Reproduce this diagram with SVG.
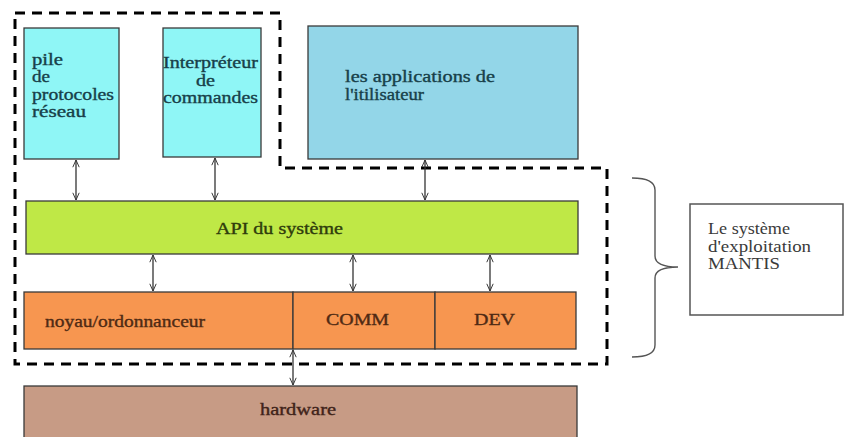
<svg xmlns="http://www.w3.org/2000/svg" width="845" height="437" viewBox="0 0 845 437">
  <style>
    .box { stroke: #3a3a3a; stroke-width: 1.3; }
    .cyan { fill: #8ff6f6; }
    .blue { fill: #93d6e8; }
    .green { fill: #bfe846; }
    .orange { fill: #f79650; }
    .hw { fill: #c79b85; }
    .t { font-family: 'Liberation Serif', 'DejaVu Serif', 'Times New Roman', serif; font-size: 16px; stroke-width: 0.35; }
    .tc { fill: #173f49; stroke: #173f49; }
    .tg { fill: #2f3c0c; stroke: #2f3c0c; }
    .to { fill: #4f2a14; stroke: #4f2a14; }
    .th { fill: #40231a; stroke: #40231a; }
    .tl { fill: #3a3a3a; stroke: none; }
    .link { stroke: #333333; stroke-width: 1.3; fill: none; marker-start: url(#chev); marker-end: url(#chev); }
    .os { stroke: #000000; stroke-width: 3; fill: none; stroke-dasharray: 10 7; }
  </style>
  <defs>
    <marker id="chev" viewBox="0 0 10 10" refX="10" refY="5" markerWidth="8" markerHeight="8" orient="auto-start-reverse" markerUnits="userSpaceOnUse">
      <path d="M1,1 L10,5 L1,9" fill="none" stroke="#333333" stroke-width="1.2"/>
    </marker>
  </defs>
  <rect width="845" height="437" fill="#ffffff"/>

  <!-- operating-system boundary -->
  <path class="os" d="M15,13 H280 V168 H607 V364 H15 Z"/>

  <g id="pile">
    <rect class="box cyan" x="24" y="28" width="95" height="131"/>
    <text class="t tc" x="32" y="65" textLength="31" lengthAdjust="spacingAndGlyphs">pile</text>
    <text class="t tc" x="32" y="82" textLength="18" lengthAdjust="spacingAndGlyphs">de</text>
    <text class="t tc" x="32" y="100" textLength="82" lengthAdjust="spacingAndGlyphs">protocoles</text>
    <text class="t tc" x="32" y="117" textLength="54" lengthAdjust="spacingAndGlyphs">réseau</text>
  </g>

  <g id="interpreteur">
    <rect class="box cyan" x="163" y="28" width="98" height="129"/>
    <text class="t tc" x="163" y="68" textLength="95" lengthAdjust="spacingAndGlyphs">Interpréteur</text>
    <text class="t tc" x="196" y="86" textLength="19" lengthAdjust="spacingAndGlyphs">de</text>
    <text class="t tc" x="163" y="103" textLength="95" lengthAdjust="spacingAndGlyphs">commandes</text>
  </g>

  <g id="applications">
    <rect class="box blue" x="308" y="26" width="270" height="133"/>
    <text class="t tc" x="345" y="82" textLength="150" lengthAdjust="spacingAndGlyphs">les applications de</text>
    <text class="t tc" x="345" y="100" textLength="79" lengthAdjust="spacingAndGlyphs">l'itilisateur</text>
  </g>

  <g id="api">
    <rect class="box green" x="26" y="201" width="552" height="53"/>
    <text class="t tg" x="216" y="234" textLength="127" lengthAdjust="spacingAndGlyphs">API du système</text>
  </g>

  <g id="noyau">
    <rect class="box orange" x="24" y="292" width="269" height="57"/>
    <text class="t to" x="45" y="327" textLength="160" lengthAdjust="spacingAndGlyphs">noyau/ordonnanceur</text>
  </g>

  <g id="comm">
    <rect class="box orange" x="293" y="292" width="142" height="57"/>
    <text class="t to" x="326" y="325" textLength="63" lengthAdjust="spacingAndGlyphs">COMM</text>
  </g>

  <g id="dev">
    <rect class="box orange" x="435" y="292" width="141" height="57"/>
    <text class="t to" x="474" y="325" textLength="41" lengthAdjust="spacingAndGlyphs">DEV</text>
  </g>

  <g id="hardware">
    <rect class="box hw" x="24" y="386" width="553" height="60"/>
    <text class="t th" x="260" y="415" textLength="76" lengthAdjust="spacingAndGlyphs">hardware</text>
  </g>

  <g id="mantis">
    <path d="M632,178 Q655,178 655,190 V256 Q655,267 678,267 Q655,267 655,278 V345 Q655,357 632,357" fill="none" stroke="#555555" stroke-width="1.4"/>
    <rect x="690" y="204" width="153" height="111" fill="#ffffff" stroke="#555555" stroke-width="1.5"/>
    <text class="t tl" x="708" y="234" textLength="82" lengthAdjust="spacingAndGlyphs">Le système</text>
    <text class="t tl" x="708" y="252" textLength="103" lengthAdjust="spacingAndGlyphs">d'exploitation</text>
    <text class="t tl" x="708" y="269" textLength="72" lengthAdjust="spacingAndGlyphs">MANTIS</text>
  </g>

  <g id="connectors">
    <path class="link" d="M76,160 V200"/>
    <path class="link" d="M215,158 V200"/>
    <path class="link" d="M425,160 V200"/>
    <path class="link" d="M153,255 V291"/>
    <path class="link" d="M353,255 V291"/>
    <path class="link" d="M490,255 V291"/>
    <path class="link" d="M293,350 V385"/>
  </g>
</svg>
